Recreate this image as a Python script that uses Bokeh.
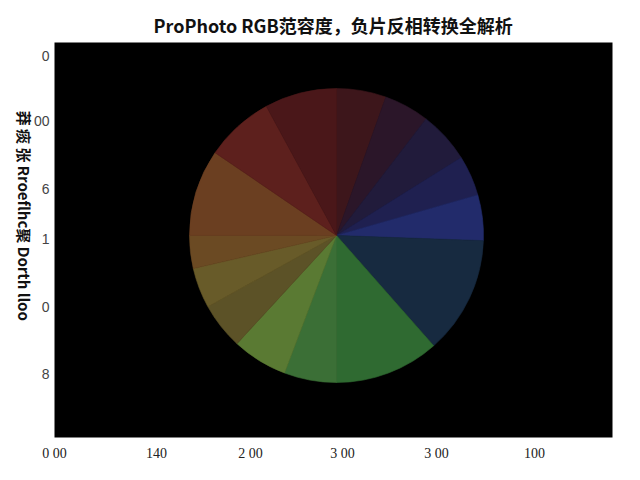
import math
import numpy as np
from bokeh.plotting import figure
from bokeh.models import FixedTicker, ColumnDataSource, Range1d, LinearAxis
from bokeh.embed import file_html
from bokeh.resources import INLINE

# ---- data ----
slice_shares = [19.6, 17.9, 20.5, 16.0, 18.0, 46.6, 41.4, 20.7, 21.9, 18.4, 16.0, 13.0, 34.3, 27.2, 28.5]
slice_colors = ["#3d161b", "#2b1629", "#211b3b", "#1f2050", "#222b6b", "#172a40",
                "#2f6a31", "#3b6f36", "#5a7a33", "#5c5227", "#685b29", "#6b4a23",
                "#6b3f21", "#5d201d", "#4a1719"]
x_tick_values = [0, 102, 196, 288, 382, 480]
x_tick_labels = ["0 00", "140", "2 00", "3 00", "3 00", "100"]
y_tick_values = [64, 131, 199, 249, 317, 382]
y_tick_labels = ["8", "0", "1", "6", "00", "0"]
title_text = "ProPhoto RGB范容度，负片反相转换全解析"
y_label_text = "莽 痰 张   Rroeflhc聚   Dorth lloo"
y_label_pos = 103

# ---- geometry of pie (in data units of the frame) ----
cx, cy, R = 282, 202, 147

shares = np.array(slice_shares, dtype=float)
frac = shares / shares.sum()
cum = np.concatenate([[0.0], np.cumsum(frac)])
# clockwise from 12 o'clock
start = [math.pi / 2 - 2 * math.pi * cum[i + 1] for i in range(len(frac))]
end = [math.pi / 2 - 2 * math.pi * cum[i] for i in range(len(frac))]

src = ColumnDataSource(dict(start=start, end=end, color=slice_colors))

p = figure(frame_width=558, frame_height=395, output_backend="svg", toolbar_location=None,
           x_range=Range1d(0, 558), y_range=Range1d(0, 395),
           min_border_left=51, min_border_right=20, min_border_top=42, min_border_bottom=10,
           title=title_text)

p.background_fill_color = "#000000"
p.border_fill_color = "#ffffff"
p.outline_line_color = None
p.grid.visible = False

p.title.align = "left"
p.title.offset = 99
p.title.text_font = "Noto Sans CJK SC"
p.title.text_font_size = "18px"
p.title.text_font_style = "bold"
p.title.text_color = "#111111"

p.wedge(x=cx, y=cy, radius=R, start_angle="start", end_angle="end",
        direction="anticlock", fill_color="color", line_color="color",
        line_width=0.6, source=src)

# x axis
p.xaxis.ticker = FixedTicker(ticks=x_tick_values)
p.xaxis.major_label_overrides = {v: l for v, l in zip(x_tick_values, x_tick_labels)}
p.xaxis.major_label_text_font = "Liberation Serif"
p.xaxis.major_label_text_font_size = "14px"
p.xaxis.major_label_text_color = "#222222"
p.xaxis.axis_line_color = None
p.xaxis.major_tick_line_color = None
p.xaxis.minor_tick_line_color = None
p.xaxis.major_label_standoff = 2

# y axis (tick labels)
p.yaxis.ticker = FixedTicker(ticks=y_tick_values)
p.yaxis.major_label_overrides = {v: l for v, l in zip(y_tick_values, y_tick_labels)}
p.yaxis.major_label_text_font = "Liberation Sans"
p.yaxis.major_label_text_font_size = "14px"
p.yaxis.major_label_text_color = "#444444"
p.yaxis.axis_line_color = None
p.yaxis.major_tick_line_color = None
p.yaxis.minor_tick_line_color = None
p.yaxis.major_tick_out = 0
p.yaxis.major_tick_in = 0
p.yaxis.minor_tick_out = 0
p.yaxis.major_label_standoff = 5

# outer axis whose single rotated label is the y title (reads top to bottom)
lab_axis = LinearAxis(ticker=FixedTicker(ticks=[y_label_pos]),
                      major_label_overrides={y_label_pos: y_label_text},
                      axis_line_color=None, major_tick_line_color=None,
                      minor_tick_line_color=None, major_label_standoff=6,
                      major_tick_out=0, major_tick_in=0, minor_tick_out=0,
                      major_label_orientation=-math.pi / 2,
                      major_label_text_font="Noto Sans CJK SC",
                      major_label_text_font_style="bold",
                      major_label_text_font_size="15px",
                      major_label_text_color="#111111")
p.add_layout(lab_axis, "left")

open("out.html", "w").write(file_html(p, INLINE))
